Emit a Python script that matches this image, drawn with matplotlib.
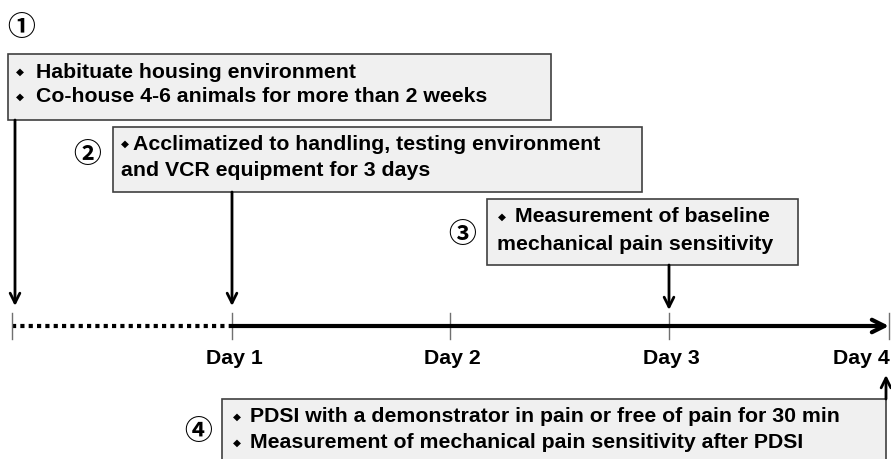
import matplotlib.pyplot as plt
from matplotlib.patches import Rectangle

# timeline days and their x positions (pixels)
day_labels = ["Day 1", "Day 2", "Day 3", "Day 4"]
day_x = [232, 450, 669, 889]
start_x = 12
line_y = 326

# step boxes: (left, top, right, bottom)
boxes = [(8, 54, 551, 120), (113, 127, 642, 192), (487, 199, 798, 265), (222, 399, 886, 470)]
step_marks = ["①", "②", "③", "④"]
mark_pos = [(21, 28), (87, 155), (462, 235), (198, 432)]

box_lines = [
    [("◆", "Habituate housing environment"), ("◆", "Co-house 4-6 animals for more than 2 weeks")],
    [("◆", "Acclimatized to handling, testing environment"), ("", "and VCR equipment for 3 days")],
    [("◆", "Measurement of baseline"), ("", "mechanical pain sensitivity")],
    [("◆", "PDSI with a demonstrator in pain or free of pain for 30 min"),
     ("◆", "Measurement of mechanical pain sensitivity after PDSI")],
]
line_ys = [(72, 97), (144, 171), (217, 244), (417, 443)]
# (bullet x, text x, plain-line x)
text_x = [(20, 36, 36), (125, 133, 121), (502, 515, 497), (237, 250, 250)]

fig = plt.figure(figsize=(8.91, 4.59), dpi=100)
ax = fig.add_axes([0, 0, 1, 1])
ax.set_xlim(0, 891)
ax.set_ylim(459, 0)
ax.axis("off")

fs = 15.3
font = ["Liberation Sans", "DejaVu Sans"]

for (l, t, r, b), lines, ys, (dx, tx, px) in zip(boxes, box_lines, line_ys, text_x):
    ax.add_patch(Rectangle((l, t), r - l, b - t, facecolor="#f0f0f0",
                           edgecolor="#404040", lw=1.2, zorder=1))
    for (bullet, txt), y in zip(lines, ys):
        if bullet:
            ax.text(dx, y, bullet, fontsize=7.5, family="DejaVu Sans",
                    ha="center", va="center", zorder=3)
            ax.text(tx, y, txt, fontsize=fs, family=font, fontweight="bold",
                    ha="left", va="center", zorder=3)
        else:
            ax.text(px, y, txt, fontsize=fs, family=font,
                    fontweight="bold", ha="left", va="center", zorder=3)

for m, (x, y) in zip(step_marks, mark_pos):
    ax.text(x, y, m, fontsize=20, family=["Noto Sans CJK JP", "DejaVu Sans"],
            fontweight="bold", ha="center", va="center")

# timeline
ax.plot([start_x, day_x[0]], [line_y, line_y], color="black", lw=3,
        linestyle=(0, (1, 1)), solid_capstyle="butt", dash_capstyle="butt")
ax.annotate("", xy=(day_x[-1], line_y), xytext=(day_x[0], line_y),
            arrowprops=dict(arrowstyle="->,head_length=0.9,head_width=0.45",
                            color="black", lw=3, shrinkA=0, shrinkB=0))
for x in [start_x] + day_x:
    ax.plot([x, x], [313, 339], color="#707070", lw=1)
for lab, x in zip(day_labels, day_x):
    if lab == "Day 4":
        ax.text(890, 358, lab, fontsize=fs, family=font, fontweight="bold",
                ha="right", va="center")
    else:
        ax.text(x + 2, 358, lab, fontsize=fs, family=font, fontweight="bold",
                ha="center", va="center")

# arrows from boxes to timeline
down = [(15, 120, 306), (232, 192, 306), (669, 265, 310)]
for x, y0, y1 in down:
    ax.annotate("", xy=(x, y1), xytext=(x, y0),
                arrowprops=dict(arrowstyle="->,head_length=0.7,head_width=0.35",
                                color="black", lw=2, shrinkA=0, shrinkB=0))
ax.annotate("", xy=(886, 375), xytext=(886, 399),
            arrowprops=dict(arrowstyle="->,head_length=0.7,head_width=0.35",
                            color="black", lw=2, shrinkA=0, shrinkB=0))

fig.savefig("out.png", dpi=100)
